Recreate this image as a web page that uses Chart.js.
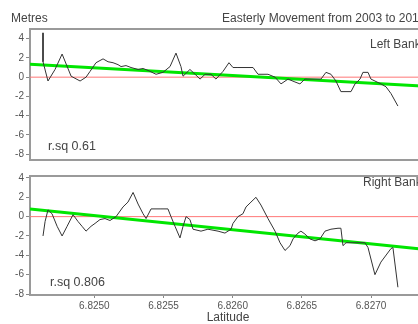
<!DOCTYPE html>
<html>
<head>
<meta charset="utf-8">
<script src="https://cdn.jsdelivr.net/npm/chart.js@4"></script>
<style>
  html, body { margin: 0; padding: 0; background: #fff; overflow: hidden; }
  #wrap { position: relative; width: 440px; height: 324px; }
  canvas { position: absolute; left: 0; }
  #top { top: 0; }
  #bot { top: 168px; }
  .lbl { position: absolute; font: 12px "Liberation Sans", Arial, sans-serif;
    color: #444; line-height: 12px; white-space: nowrap; }
</style>
</head>
<body>
<div id="wrap">
  <canvas id="top" width="440" height="168"></canvas>
  <canvas id="bot" width="440" height="156"></canvas>
  <div class="lbl" style="left:11px;top:12px">Metres</div>
  <div class="lbl" style="left:222px;top:12px">Easterly Movement from 2003 to 2011</div>
  <div class="lbl" style="left:370px;top:38px">Left Bank</div>
  <div class="lbl" style="left:48px;top:140px;font-size:12.5px">r.sq 0.61</div>
  <div class="lbl" style="left:363px;top:176px">Right Bank</div>
  <div class="lbl" style="left:50px;top:276px;font-size:12.5px">r.sq 0.806</div>
</div>
<script>
"use strict";
const $ = (id) => document.getElementById(id);

// latitude range shown and tick values
const X_MIN = 6.824535, X_MAX = 6.827397;
const xTicks = [6.8250, 6.8255, 6.8260, 6.8265, 6.8270];
const yTicks = [-8, -6, -4, -2, 0, 2, 4];

// left bank: latitude vs easterly movement (m)
const leftLat = [
  6.824629, 6.824629, 6.824665, 6.824716, 6.824767, 6.824832, 6.824897, 6.824940, 6.824969, 6.825012,
  6.825063, 6.825099, 6.825135, 6.825171, 6.825193, 6.825229, 6.825265, 6.825316, 6.825352, 6.825388,
  6.825446, 6.825496, 6.825547, 6.825590, 6.825626, 6.825641, 6.825691, 6.825728, 6.825764, 6.825800,
  6.825843, 6.825879, 6.825930, 6.825973, 6.826002, 6.826038, 6.826147, 6.826183, 6.826255, 6.826306,
  6.826349, 6.826400, 6.826450, 6.826486, 6.826522, 6.826638, 6.826674, 6.826710, 6.826746, 6.826782,
  6.826855, 6.826884, 6.826920, 6.826941, 6.826978, 6.826999, 6.827071, 6.827108, 6.827144, 6.827194];
const leftMove = [
  4.6, 1.6, -0.4, 0.8, 2.4, 0.1, -0.4, 0.0, 0.6, 1.5,
  1.9, 1.6, 1.5, 1.3, 1.1, 1.2, 1.0, 0.8, 0.9, 0.7,
  0.3, 0.5, 1.1, 2.5, 1.1, 0.1, 0.8, 0.3, -0.2, 0.3,
  0.3, -0.2, 0.6, 1.5, 1.0, 1.0, 1.0, 0.3, 0.3, 0.0,
  -0.7, -0.2, -0.5, -0.7, -0.2, -0.2, 0.5, 0.3, -0.4, -1.5,
  -1.5, -0.7, -0.2, 0.5, 0.5, -0.2, -0.7, -1.0, -1.7, -3.0];
const leftFit = [1.33, -0.95];   // regression at X_MIN, X_MAX

// right bank
const rightLat = [
  6.824629, 6.824644, 6.824665, 6.824694, 6.824731, 6.824767, 6.824803, 6.824846, 6.824882, 6.824911,
  6.824940, 6.824976, 6.825005, 6.825041, 6.825077, 6.825113, 6.825157, 6.825207, 6.825243, 6.825280,
  6.825316, 6.825352, 6.825374, 6.825410, 6.825475, 6.825532, 6.825554, 6.825583, 6.825619, 6.825641,
  6.825663, 6.825691, 6.825713, 6.825771, 6.825821, 6.825894, 6.825944, 6.825988, 6.826002, 6.826038,
  6.826074, 6.826096, 6.826132, 6.826168, 6.826204, 6.826255, 6.826306, 6.826342, 6.826378, 6.826414,
  6.826436, 6.826472, 6.826493, 6.826522, 6.826558, 6.826595, 6.826631, 6.826667, 6.826710, 6.826761,
  6.826782, 6.826797, 6.826819, 6.826956, 6.826978, 6.827028, 6.827071, 6.827144, 6.827158, 6.827194];
const rightMove = [
  -2.0, -0.5, 0.7, 0.3, -1.0, -2.0, -1.0, 0.2, -0.5, -1.0,
  -1.5, -1.0, -0.7, -0.3, -0.2, -0.4, 0.0, 1.0, 1.5, 2.5,
  1.3, 0.3, -0.2, 0.8, 0.8, 0.8, 0.0, -1.0, -2.2, -1.0,
  0.0, -0.3, -1.3, -1.5, -1.3, -1.5, -1.7, -1.3, -0.7, 0.0,
  0.3, 1.0, 1.5, 2.0, 1.2, -0.2, -1.5, -2.7, -3.5, -3.0,
  -2.3, -1.7, -1.5, -1.8, -2.3, -2.5, -2.3, -1.5, -1.3, -1.2,
  -1.2, -3.0, -2.7, -2.7, -3.2, -6.0, -4.7, -3.3, -3.2, -7.3];
const rightFit = [0.80, -3.39];

Chart.defaults.font.family = "'Liberation Sans', Arial, sans-serif";
Chart.defaults.animation = false;

// grey box round the plot area
const frame = {
  id: "frame",
  beforeDatasetsDraw(c) {
    const a = c.chartArea, ctx = c.ctx;
    ctx.save();
    ctx.strokeStyle = "#9a9a9a";
    ctx.lineWidth = 2;
    ctx.strokeRect(a.left, a.top, a.right - a.left, a.bottom - a.top);
    ctx.restore();
  },
};

function panel(id, lat, move, fit, yMin, yMax, showX, pad) {
  return new Chart($(id), {
    type: "line",
    data: { datasets: [
      { data: lat.map((x, i) => ({ x, y: move[i] })), borderColor: "#333",
        borderWidth: 1, pointRadius: 0, tension: 0, order: 0 },
      { data: [{ x: X_MIN, y: fit[0] }, { x: X_MAX, y: fit[1] }], borderColor: "#00e600",
        borderWidth: 3, pointRadius: 0, order: 1 },
      { data: [{ x: X_MIN, y: 0 }, { x: X_MAX, y: 0 }], borderColor: "#ff7777",
        borderWidth: 1, pointRadius: 0, order: 2 } ] },
    options: {
      responsive: false, devicePixelRatio: 1,
      layout: { padding: pad },
      plugins: { legend: { display: false }, tooltip: { enabled: false } },
      scales: {
        x: { type: "linear", min: X_MIN, max: X_MAX, display: showX,
          afterBuildTicks: (s) => { s.ticks = xTicks.map((v) => ({ value: v })); },
          afterFit: (s) => { s.height = showX ? 29 : 0; },
          ticks: { callback: (v) => v.toFixed(4), font: { size: 10 }, color: "#555",
            padding: 2, maxRotation: 0, autoSkip: false },
          grid: { drawOnChartArea: false, tickLength: 3, color: "#888" },
          border: { display: false },
          title: { display: true, text: "Latitude", color: "#444",
            font: { size: 12, lineHeight: 1 }, padding: 0 } },
        y: { min: yMin, max: yMax,
          afterBuildTicks: (s) => { s.ticks = yTicks.map((v) => ({ value: v })); },
          afterFit: (s) => { s.width = 30; },
          ticks: { font: { size: 10 }, color: "#555", padding: 2 },
          grid: { drawOnChartArea: false, tickLength: 4, color: "#888" },
          border: { display: false } },
      },
    },
    plugins: [frame],
  });
}

panel("top", leftLat, leftMove, leftFit, -8.6, 5.0, false, { top: 29, right: 14, bottom: 6, left: 0 });
panel("bot", rightLat, rightMove, rightFit, -8.1, 4.2, true, { top: 7, right: 14, bottom: 0, left: 0 });
</script>
</body>
</html>
